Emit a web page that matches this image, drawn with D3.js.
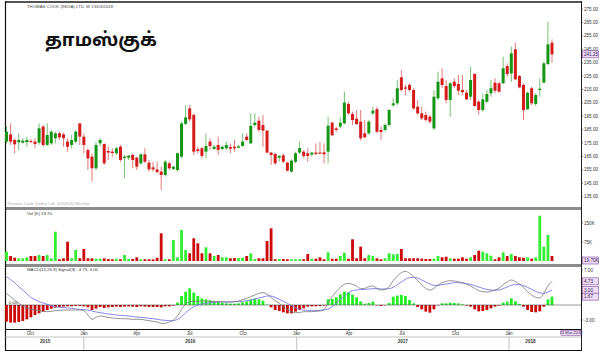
<!DOCTYPE html>
<html><head><meta charset="utf-8">
<script src="https://cdn.jsdelivr.net/npm/d3@7"></script>
<style>body{margin:0;background:#fff}svg{display:block}text{font-family:"Liberation Sans",Arial,sans-serif}</style>
</head><body><svg id="c" width="600" height="352"></svg>
<script>
// ---------------- DATA ----------------
const titleText = "தாமஸ்குக்";
const firstWeek = new Date(2015, 7, 21), lastWeek = new Date(2018, 2, 16);
const open = [
176.1,181.5,177.3,175.6,175.3,175.6,176.6,176.1,175.3,187.3,
173.6,174.8,178.6,182.3,181.5,176.1,173.6,176.1,189.7,179.8,
169.8,164.9,156.2,174.8,174.3,169.1,168.6,167.4,172.3,163.9,
164.1,166.1,164.1,159.9,166.6,160.4,156.9,155.4,153.7,151.2,
159.9,155.7,154.9,164.9,189.3,200.9,196.0,170.3,171.1,168.6,
176.1,170.6,173.6,170.6,171.1,172.1,172.3,171.6,172.8,179.8,
174.8,188.5,191.7,188.5,184.3,167.9,166.9,164.1,165.9,160.4,
153.7,161.1,167.9,168.6,167.4,166.4,167.9,167.9,168.1,168.6,
190.2,186.0,187.3,189.7,204.2,196.7,193.2,191.0,182.3,182.3,
197.2,200.4,184.8,184.8,188.5,203.2,204.7,224.1,216.6,218.4,
214.6,202.2,197.2,196.0,194.7,186.0,208.4,223.3,217.6,207.2,
220.8,219.1,214.6,212.6,209.6,226.6,205.9,199.7,205.9,212.1,
220.1,219.6,219.6,232.5,227.0,245.0,225.1,218.4,200.2,215.9,
204.2,214.6,220.1,234.0,249.9];
const high = [
187.3,189.7,178.6,182.3,178.6,179.8,177.8,178.6,189.7,188.5,
189.7,184.8,183.5,183.5,182.8,178.6,181.0,184.8,189.7,182.3,
171.1,167.4,176.1,178.6,174.8,172.3,171.1,172.3,173.6,166.1,
166.1,167.4,164.9,167.4,171.1,162.4,161.1,161.1,157.4,162.4,
161.1,157.9,167.9,191.0,203.4,203.4,197.2,172.3,172.3,182.3,
178.6,173.6,179.8,173.1,176.1,174.8,177.3,173.6,182.3,182.3,
197.2,197.2,194.7,196.0,184.8,168.6,167.9,166.1,166.9,161.1,
162.9,168.6,176.1,169.9,171.1,168.6,174.8,176.1,174.8,194.7,
191.0,187.3,194.2,213.4,205.9,198.5,199.7,199.7,192.2,192.2,
202.2,202.2,187.3,189.7,200.2,208.4,222.1,229.5,218.4,219.6,
215.9,207.2,202.2,198.4,196.0,214.6,228.3,230.8,222.1,220.8,
223.3,225.8,225.8,214.6,232.0,227.0,207.2,212.1,214.6,222.1,
223.3,220.8,239.5,234.5,247.0,249.9,225.8,219.6,213.4,217.1,
212.1,223.3,235.8,265.6,252.4];
const low = [
174.8,173.6,167.4,169.8,174.8,172.3,174.8,171.1,173.6,172.3,
172.8,173.6,174.8,177.3,172.3,168.6,171.1,174.8,173.6,167.4,
154.9,146.2,154.9,172.3,158.6,162.4,164.9,166.1,161.1,148.7,
162.4,156.2,154.9,158.6,159.9,153.7,153.7,152.4,140.0,149.9,
154.9,154.9,153.7,163.6,188.5,191.0,166.1,167.4,163.6,163.6,
169.9,169.9,166.1,169.9,169.9,167.4,168.6,171.1,172.3,176.8,
174.3,187.3,183.5,172.3,167.4,158.7,158.7,161.1,159.9,153.7,
152.9,159.9,166.9,163.6,161.1,164.9,166.1,166.9,159.9,159.9,
180.3,183.5,186.0,189.2,196.0,188.5,188.5,176.8,178.6,181.1,
196.0,182.3,177.3,183.5,187.3,202.2,203.4,213.4,210.9,213.4,
199.7,196.0,192.2,191.0,189.7,184.8,207.2,215.9,204.7,194.7,
215.9,210.9,210.9,207.2,207.2,202.2,196.0,198.4,204.7,209.6,
212.1,212.6,219.1,224.6,220.8,222.1,215.9,192.2,199.7,203.4,
202.7,209.6,219.6,233.3,235.0];
const close = [
183.5,176.1,174.1,177.3,176.8,177.3,175.8,174.3,186.0,173.6,
181.0,183.5,182.3,179.3,178.6,172.3,177.3,183.5,179.8,173.6,
163.6,156.2,173.6,177.3,159.9,167.9,167.6,171.1,162.4,164.9,
165.6,162.4,157.4,166.6,161.1,155.4,155.4,153.4,151.2,161.1,
156.2,157.4,167.4,189.7,194.2,192.7,168.6,169.1,165.4,172.8,
172.8,172.3,169.9,172.3,173.6,170.8,171.1,172.6,176.1,177.3,
187.8,190.2,184.8,184.3,167.9,166.1,159.9,165.4,161.1,154.4,
161.9,167.4,171.3,165.4,165.4,167.9,166.9,167.0,166.6,188.0,
180.8,184.8,190.2,205.2,197.2,192.2,189.2,178.6,179.3,191.0,
199.2,183.5,183.3,188.5,199.7,204.7,215.9,214.6,215.6,214.6,
200.9,197.2,193.5,192.2,191.0,209.6,220.8,218.4,207.2,219.6,
217.6,214.1,213.1,207.6,222.1,202.7,199.7,207.6,211.6,215.9,
214.1,213.4,230.8,226.6,242.0,222.6,216.6,199.7,212.6,204.7,
210.9,215.6,234.5,248.7,241.25];
const volume = [
36.7,19.7,13.0,10.7,10.7,14.6,19.7,19.7,23.7,19.7,
23.7,10.7,115.7,6.7,10.7,76.2,10.7,43.4,10.7,47.4,
10.7,10.7,9.1,9.1,10.7,7.9,6.7,9.1,6.7,23.7,
7.9,7.9,14.6,6.7,6.7,6.7,6.7,13.0,109.4,6.7,
6.7,82.9,14.6,122.4,43.4,30.4,89.6,69.9,30.4,54.1,
30.4,19.7,23.7,14.6,14.6,10.7,11.8,11.8,13.0,19.7,
30.4,7.9,10.7,10.7,79.0,129.1,6.7,7.9,7.9,6.7,
6.7,6.7,6.7,6.7,27.6,9.1,9.1,14.6,6.7,34.3,
9.1,9.1,19.7,32.8,9.1,85.7,10.7,56.5,10.7,23.7,
19.7,10.7,6.7,10.7,30.4,26.5,27.6,47.4,10.7,10.7,
10.7,10.7,9.1,7.9,7.9,9.1,19.7,14.6,17.0,10.7,
9.1,9.1,14.6,9.1,14.6,23.7,40.7,36.7,30.4,20.9,
6.7,14.6,34.3,19.7,27.6,19.7,14.6,13.0,14.6,9.1,
14.6,178.8,56.5,102.6,19.7];
const macd = [
2.33,1.67,1.0,0.33,-0.2,-0.6,-0.87,-1.0,-1.13,-1.27,
-1.33,-1.27,-1.13,-1.07,-1.0,-1.0,-1.0,-1.0,-1.0,-1.13,
-2.0,-2.87,-2.47,-2.2,-2.33,-2.47,-2.6,-2.67,-2.73,-2.73,
-2.8,-2.87,-2.87,-2.87,-3.0,-3.13,-3.27,-3.4,-3.67,-3.67,
-3.4,-3.0,-2.2,-0.87,0.2,0.67,0.73,0.73,0.8,0.8,
0.73,0.73,0.67,0.67,0.6,0.6,0.67,0.8,1.07,1.33,
1.67,2.0,2.33,2.47,2.2,1.53,0.87,0.33,-0.33,-0.87,
-1.33,-1.53,-1.53,-1.33,-1.33,-1.33,-1.27,-1.2,-0.87,0.47,
1.67,2.67,3.53,4.13,4.33,4.13,3.8,3.27,3.33,3.67,
3.8,3.33,3.0,3.13,3.67,4.87,5.8,6.47,6.73,6.33,
5.67,4.87,4.0,3.33,3.0,3.33,4.0,4.47,4.73,4.87,
4.8,4.67,4.47,4.2,3.8,3.33,2.87,2.67,2.6,2.73,
3.0,3.4,4.07,4.6,5.0,4.67,4.2,3.53,2.67,2.0,
1.53,1.4,2.33,3.8,4.73];
const signal = [
5.67,5.07,4.47,3.67,3.0,2.27,1.53,1.07,0.67,0.4,
0.13,-0.13,-0.33,-0.47,-0.53,-0.6,-0.67,-0.8,-0.87,-0.93,
-1.0,-1.2,-1.4,-1.53,-1.67,-1.8,-1.87,-2.0,-2.07,-2.13,
-2.2,-2.33,-2.4,-2.47,-2.53,-2.67,-2.73,-2.87,-3.0,-3.07,
-3.13,-3.13,-2.87,-2.33,-1.53,-0.87,-0.33,0,0.2,0.33,
0.47,0.53,0.6,0.6,0.6,0.6,0.67,0.67,0.73,0.87,
1.0,1.2,1.4,1.6,1.8,1.8,1.53,1.13,0.73,0.33,
-0.13,-0.53,-0.87,-1.0,-1.07,-1.13,-1.13,-1.07,-1.0,-0.8,
-0.33,0.33,1.13,1.8,2.47,2.87,3.0,3.07,3.13,3.2,
3.27,3.27,3.2,3.2,3.27,3.53,4.07,4.6,5.13,5.47,
5.53,5.4,5.0,4.6,4.2,3.93,3.93,4.07,4.2,4.33,
4.47,4.47,4.4,4.27,4.13,3.87,3.6,3.33,3.13,3.0,
2.93,3.0,3.27,3.6,3.93,4.07,4.07,3.87,3.53,3.13,
2.73,2.4,2.33,2.6,3.0];
const hist = [
-3.33,-3.53,-3.53,-3.4,-3.2,-2.87,-2.47,-2.0,-1.67,-1.33,
-1.0,-0.73,-0.53,-0.4,-0.33,-0.27,-0.27,-0.2,-0.2,-0.27,
-0.47,-1.0,-0.73,-0.4,-0.6,-0.47,-0.4,-0.33,-0.4,-0.33,
-0.27,-0.33,-0.4,-0.27,-0.33,-0.4,-0.4,-0.4,-0.47,-0.27,
-0.27,-0.13,0.47,1.8,2.67,3.33,2.47,1.8,1.33,1.13,
0.93,0.73,0.6,0.47,0.33,0.27,0.27,0.33,0.53,0.73,
1.13,1.27,1.13,0.87,0.07,-0.47,-1.0,-1.2,-1.47,-1.67,
-1.67,-1.33,-1.0,-0.67,-0.33,-0.27,-0.27,-0.2,-0.13,1.13,
1.2,1.53,2.13,2.67,2.53,2.07,1.53,0.73,0.27,0.4,
0.67,-0.07,-0.2,-0.07,0.4,1.67,1.87,2.0,1.8,1.0,
0.33,-0.4,-0.87,-1.33,-1.53,-0.87,-0.07,0.33,0.33,0.47,
0.4,0.33,0.13,-0.13,-0.33,-0.87,-1.27,-1.2,-1.0,-0.67,
-0.33,-0.13,0.47,0.67,1.33,0.73,0.2,-0.33,-1.0,-1.4,
-1.47,-1.27,-0.33,1.13,1.67];
const priceTicks = [135,145,155,165,175,185,195,205,215,225,235,245,255,265,275];
const volTicks = [75,150];
const macdTicks = [7,-3];
const yearLabels = ["2015","2016","2017","2018"];
const headerText = "THOMAS COOK (INDIA) LTD. W 13/03/2018";
const footText = "Thomas Cook (India) Ltd. (500413) Weekly";
const dateBoxText = "13-Mar-2018";

// ---------------- DRAW ----------------
const svg = d3.select("#c");
const L = 5, R = 581;
const dates = d3.timeFriday.range(firstWeek, d3.timeDay.offset(lastWeek, 1));
const x = d3.scaleTime().domain([firstWeek, lastWeek]).range([6.5, 552]);
const yP = d3.scaleLinear().domain([127.3, 279.55]).range([207, 3]);
const yV = d3.scaleLinear().domain([0, 201.3]).range([261, 210]);
const yM = d3.scaleLinear().domain([-4.8, 7.6]).range([329, 267]);
const up = i => close[i] >= open[i];
const GB = "#159515", RB = "#d41c1c";

// frame
svg.append("rect").attr("x", L).attr("y", 1).attr("width", R - L).attr("height", 2).attr("fill", "#555");
svg.append("rect").attr("x", L).attr("y", 207).attr("width", R - L).attr("height", 3).attr("fill", "#8c8c8c");
svg.append("rect").attr("x", L).attr("y", 264).attr("width", R - L).attr("height", 3).attr("fill", "#8c8c8c");
const ln = (x1,y1,x2,y2,c,w) => svg.append("line").attr("x1",x1).attr("y1",y1).attr("x2",x2).attr("y2",y2).attr("stroke",c).attr("stroke-width",w||1);
ln(L+0.5, 1, L+0.5, 350.5, "#111", 1.2);
ln(R+0.5, 1, R+0.5, 350.5, "#222", 1);
ln(L, 329.5, R, 329.5, "#111", 1);
ln(L, 337, R, 337, "#999", 0.6);
ln(L, 350.5, R+1, 350.5, "#111", 1.2);

// header texts
svg.append("text").attr("x", 27).attr("y", 7.5).attr("font-size", 4.3).attr("fill", "#444").text(headerText);
svg.append("text").attr("x", 45).attr("y", 46).attr("font-size", 18.5).attr("font-weight", "bold")
  .attr("fill", "#111").style("font-family", "'Noto Sans Tamil','Lohit Tamil','Latha',sans-serif").text(titleText);
svg.append("text").attr("x", 7).attr("y", 204.5).attr("font-size", 4.3).attr("fill", "#aaa").text(footText);

// candles
const cg = svg.append("g");
dates.forEach((d, i) => {
  const cx = x(d), col = up(i) ? GB : RB;
  cg.append("line").attr("x1", cx).attr("x2", cx).attr("y1", yP(high[i])).attr("y2", yP(low[i]))
    .attr("stroke", col).attr("stroke-width", 0.8).attr("stroke-opacity", 0.75);
  const t = yP(Math.max(open[i], close[i])), b = yP(Math.min(open[i], close[i]));
  cg.append("rect").attr("x", cx - 1.5).attr("y", t).attr("width", 3).attr("height", Math.max(1, b - t)).attr("fill", col);
});

// volume
const vg = svg.append("g");
dates.forEach((d, i) => {
  vg.append("rect").attr("x", x(d) - 1.4).attr("y", yV(volume[i])).attr("width", 2.8)
    .attr("height", yV(0) - yV(volume[i])).attr("fill", up(i) ? "#33ee33" : "#cc0a0a");
});
svg.append("text").attr("x", 27).attr("y", 214.5).attr("font-size", 4.3).attr("fill", "#333")
  .text("Vol (K) " + volume[volume.length-1].toFixed(2));

// MACD
const mg = svg.append("g");
dates.forEach((d, i) => {
  const v = hist[i];
  mg.append("rect").attr("x", x(d) - 1.4).attr("y", Math.min(yM(v), yM(0))).attr("width", 2.8)
    .attr("height", Math.abs(yM(v) - yM(0))).attr("fill", v >= 0 ? "#22ee22" : "#cc0a0a");
});
ln(L, yM(0), R, yM(0), "#333", 0.5);
const lineGen = arr => d3.line().x((d, i) => x(dates[i])).y(v => yM(v)).curve(d3.curveMonotoneX)(arr);
svg.append("path").attr("d", lineGen(signal)).attr("fill", "none").attr("stroke", "#7878e8").attr("stroke-width", 0.9);
svg.append("path").attr("d", lineGen(macd)).attr("fill", "none").attr("stroke", "#777").attr("stroke-width", 0.8);
svg.append("text").attr("x", 27).attr("y", 270.5).attr("font-size", 4.3).attr("fill", "#333")
  .text("MACD(12,26,9) Signal(9) : " + macd[macd.length-1].toFixed(2) + ", " + signal[signal.length-1].toFixed(2));
svg.append("text").attr("x", 9).attr("y", yM(0) - 1.5).attr("font-size", 4.3).attr("fill", "#333").text("0.00");

// right axes
const lab = (yy, txt) => {
  ln(R, yy, R + 2, yy, "#333", 0.6);
  svg.append("text").attr("x", 584).attr("y", yy + 1.6).attr("font-size", 4.6).attr("fill", "#333").text(txt);
};
priceTicks.forEach(v => { if (Math.abs(yP(v) - yP(close[close.length-1])) > 4) lab(yP(v), v.toFixed(2)); });
volTicks.forEach(v => lab(yV(v), v + "K"));
macdTicks.forEach(v => lab(yM(v), v.toFixed(2)));
const box = (yy, txt, w) => {
  svg.append("rect").attr("x", 582.5).attr("y", yy - 3.5).attr("width", w || 16).attr("height", 7)
    .attr("fill", "#eedcf4").attr("stroke", "#7a4a9a").attr("stroke-width", 0.6);
  svg.append("text").attr("x", 584).attr("y", yy + 1.7).attr("font-size", 4.6).attr("fill", "#3a1a5a").text(txt);
};
box(yP(close[close.length-1]), close[close.length-1].toFixed(2));
box(yV(0) - 0.5, volume[volume.length-1].toFixed(2) + "K");
box(yM(macd[macd.length-1]), macd[macd.length-1].toFixed(2));
box(yM(signal[signal.length-1]), signal[signal.length-1].toFixed(2));
box(yM(hist[hist.length-1]), hist[hist.length-1].toFixed(2));

// time axis
const months = d3.timeMonth.range(new Date(2015, 9, 1), new Date(2018, 1, 1), 3);
months.forEach(m => {
  ln(x(m), 329.5, x(m), 331.5, "#333", 0.6);
  svg.append("text").attr("x", x(m)).attr("y", 334.5).attr("text-anchor", "middle").attr("font-size", 4.6)
    .attr("fill", "#333").text(d3.timeFormat("%b")(m));
});
yearLabels.forEach(yr => {
  const y0 = new Date(+yr, 0, 1), y1 = new Date(+yr + 1, 0, 1);
  if (y0 > firstWeek) ln(x(y0), 337, x(y0), 350, "#999", 0.6);
  const a = x(d3.max([y0, firstWeek])), b = x(d3.min([y1, lastWeek]));
  svg.append("text").attr("x", (a + b) / 2).attr("y", 342.5).attr("text-anchor", "middle").attr("font-size", 4.6)
    .attr("fill", "#333").attr("font-weight", "bold").text(yr);
});
svg.append("rect").attr("x", 561).attr("y", 330.5).attr("width", 20).attr("height", 5).attr("fill", "#eedcf4").attr("stroke", "#7a4a9a").attr("stroke-width", 0.5);
svg.append("text").attr("x", 571).attr("y", 334.3).attr("text-anchor", "middle").attr("font-size", 4).attr("fill", "#3a1a5a").text(dateBoxText);
</script></body></html>
